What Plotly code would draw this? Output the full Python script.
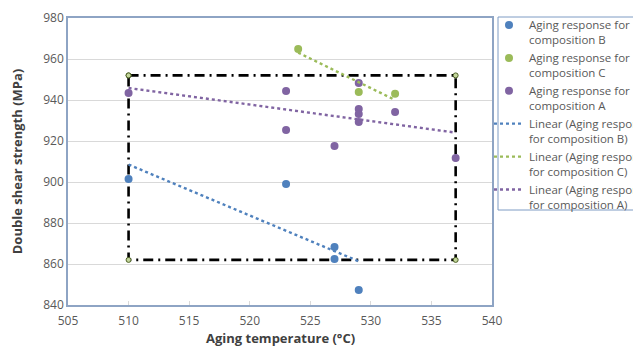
import numpy as np
import plotly.graph_objects as go

# Data
b_temp = [510, 523, 527, 527, 529]
b_strength = [901.5, 899, 868.3, 862.5, 847.3]

c_temp = [524, 529, 532]
c_strength = [964.9, 943.9, 943.0]

a_temp = [510, 523, 523, 527, 529, 529, 529, 529, 532, 537]
a_strength = [943.4, 944.4, 925.4, 917.6, 948.3, 935.6, 933.2, 929.3, 934.1, 911.7]

# Dash-dot processing window
window_temp = [510, 537, 537, 510, 510]
window_strength = [952, 952, 862, 862, 952]

x_ticks = [505, 510, 515, 520, 525, 530, 535, 540]
y_ticks = [840, 860, 880, 900, 920, 940, 960, 980]

col_b = "#4F81BD"
col_c = "#9BBB59"
col_a = "#8064A2"
text_col = "#595959"
font_family = "Open Sans, Liberation Sans, Arial, sans-serif"


def trend(xs, ys):
    k, c = np.polyfit(xs, ys, 1)
    xx = np.array([min(xs), max(xs)], dtype=float)
    return xx, k * xx + c


fig = go.Figure()

# dash-dot window (not in legend)
fig.add_trace(go.Scatter(
    x=window_temp, y=window_strength, mode="lines+markers",
    line=dict(color="black", width=2.6, dash="10px,5px,2px,5px"),
    marker=dict(size=5, color="#C3D69B", line=dict(color="#4F6228", width=1)),
    showlegend=False, hoverinfo="skip"))

series = [
    (b_temp, b_strength, col_b, "B"),
    (c_temp, c_strength, col_c, "C"),
    (a_temp, a_strength, col_a, "A"),
]

for xs, ys, col, name in series:
    fig.add_trace(go.Scatter(
        x=xs, y=ys, mode="markers",
        marker=dict(size=8, color=col),
        name="Aging response for<br>composition " + name))

for xs, ys, col, name in series:
    tx, ty = trend(xs, ys)
    fig.add_trace(go.Scatter(
        x=tx, y=ty, mode="lines",
        line=dict(color=col, width=2.4, dash="dot"),
        name="Linear (Aging response<br>for composition " + name + ")"))

# page has an 8px body margin: plot area spans page x 68..492, y 18..305
W, H = 633, 338
fig.update_layout(
    width=W, height=H,
    margin=dict(l=60, r=149, t=10, b=41, autoexpand=False),
    paper_bgcolor="white", plot_bgcolor="white",
    font=dict(family=font_family, color=text_col, size=12),
    legend=dict(
        x=(489 - 68) / 424, y=(305 - 11) / 287, xanchor="left", yanchor="top",
        borderwidth=0, bgcolor="rgba(0,0,0,0)",
        font=dict(size=11.5, color=text_col),
        itemwidth=30, tracegroupgap=0, valign="top", maxheight=400,
    ),
    shapes=[dict(
        type="rect", xref="paper", yref="paper",
        x0=(498 - 68) / 424, x1=1.6, y0=(305 - 210) / 287, y1=(305 - 17) / 287,
        line=dict(color="#7F9CC4", width=1), fillcolor="rgba(0,0,0,0)", layer="below")],
    annotations=[dict(
        text="<b>Aging temperature (°C)</b>", xref="paper", yref="paper",
        x=0.5, y=(305 - 337.5) / 287, xanchor="center", yanchor="middle",
        showarrow=False, font=dict(size=13, color="#404040"))],
    xaxis=dict(
        range=[505, 540], tickvals=x_ticks, showgrid=False,
        showline=True, linecolor="#8EA4C4", linewidth=1.5, mirror=True,
        ticks="inside", ticklen=4, tickcolor="#D9D9D9",
        ticklabelstandoff=4,
        tickfont=dict(size=12, color=text_col),
        zeroline=False,
    ),
    yaxis=dict(
        range=[840, 980], tickvals=y_ticks, showgrid=True, gridcolor="#D9D9D9", gridwidth=1,
        showline=True, linecolor="#8EA4C4", linewidth=1.5, mirror=True,
        ticks="", tickfont=dict(size=12, color=text_col),
        title=dict(text="<b>Double shear strength (MPa)</b>", font=dict(size=13, color="#404040"), standoff=18),
        zeroline=False,
    ),
)

fig.write_html("out.html")
